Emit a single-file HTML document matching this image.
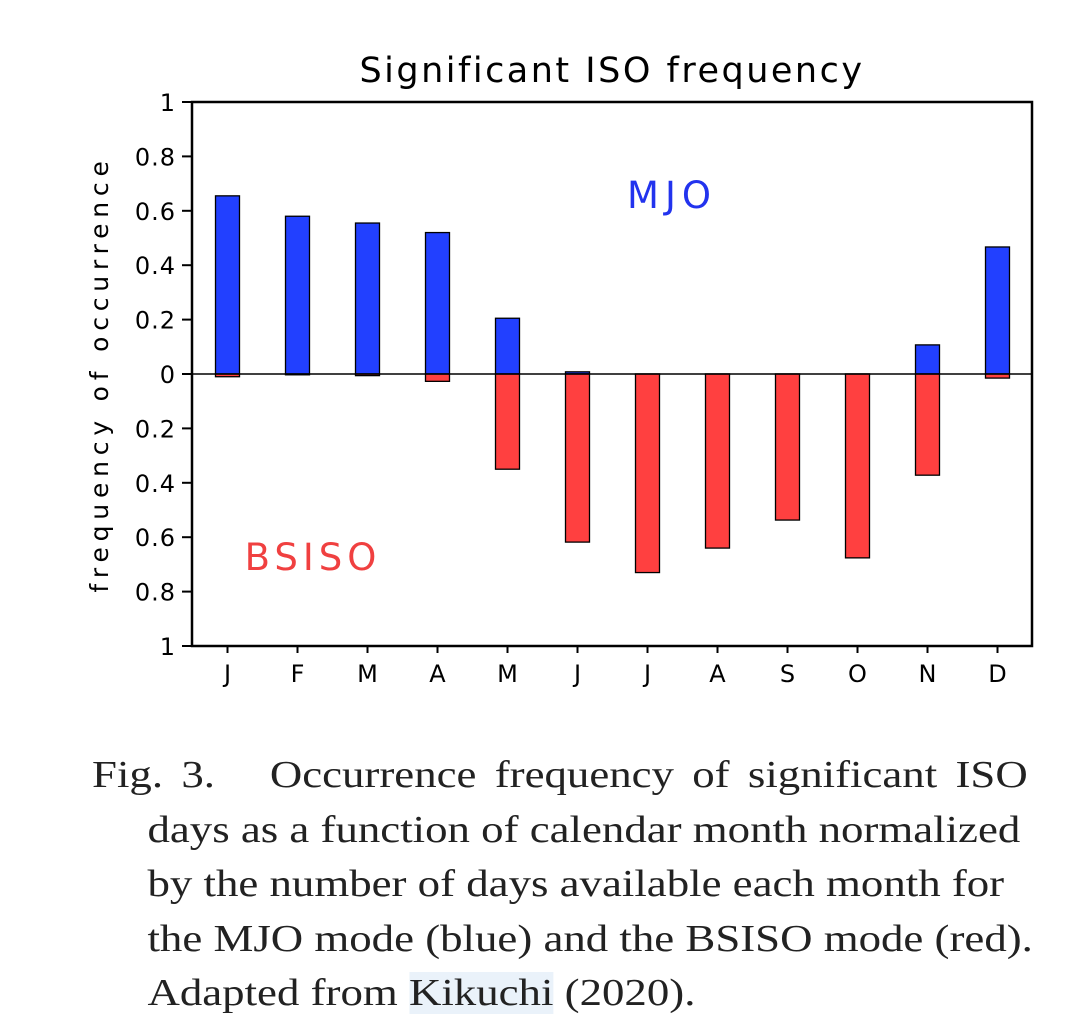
<!DOCTYPE html>
<html><head><meta charset="utf-8"><style>
body{margin:0;background:#fff;width:1080px;height:1036px;overflow:hidden;position:relative}
#cap{position:absolute;left:92px;top:748px;font-family:"Liberation Serif",serif;font-size:38px;line-height:54.5px;color:#222;transform:scaleX(1.18);transform-origin:0 0}
#cap .l{white-space:nowrap}
#cap .j{width:793px;text-align:justify;text-align-last:justify;white-space:normal}
.hl{background:#eaf2fa}
</style></head><body>
<svg id="chart" width="1080" height="720" style="position:absolute;left:0;top:0" font-family="'DejaVu Sans','Liberation Sans',sans-serif">
<text x="612" y="82" font-size="35" text-anchor="middle" letter-spacing="2.5" fill="#000">Significant ISO frequency</text>
<g id="bars"></g>
<g id="axes"></g>
<text transform="translate(108,374) rotate(-90)" font-size="25" text-anchor="middle" letter-spacing="5.8" fill="#000">frequency of occurrence</text>
<text x="672" y="208" font-size="37" text-anchor="middle" fill="#2233ee" letter-spacing="6">MJO</text>
<text x="313" y="570" font-size="37" text-anchor="middle" fill="#f04040" letter-spacing="5">BSISO</text>
</svg>
<div id="cap">
<div class="l j">Fig. 3.&nbsp;&nbsp; Occurrence frequency of significant ISO</div>
<div class="l" style="padding-left:47px">days as a function of calendar month normalized</div>
<div class="l" style="padding-left:47px">by the number of days available each month for</div>
<div class="l" style="padding-left:47px">the MJO mode (blue) and the BSISO mode (red).</div>
<div class="l" style="padding-left:47px">Adapted from <span class="hl">Kikuchi</span> (2020).</div>
</div>
<script>
const months=["J","F","M","A","M","J","J","A","S","O","N","D"];
const mjo=[0.655,0.58,0.555,0.52,0.205,0.008,0,0,0,0,0.107,0.467];
const bsiso=[0.01,0.003,0.006,0.027,0.35,0.618,0.73,0.64,0.537,0.676,0.372,0.015];
const yTicks=[1,0.8,0.6,0.4,0.2,0,0.2,0.4,0.6,0.8,1];
const yTickVals=[1,0.8,0.6,0.4,0.2,0,-0.2,-0.4,-0.6,-0.8,-1];
const NS="http://www.w3.org/2000/svg";
const L=192,R=1032,T=102,B=646;
const y=v=>374-v*272;
const x=i=>227.5+i*70;
const bw=24;
function mk(t,a,p){const e=document.createElementNS(NS,t);for(const k in a)e.setAttribute(k,a[k]);p.appendChild(e);return e;}
const bars=document.getElementById('bars'),axes=document.getElementById('axes');
months.forEach((m,i)=>{
 let r=mk('rect',{x:x(i)-bw/2,y:y(mjo[i]),width:bw,height:Math.max(0.5,y(0)-y(mjo[i])),fill:'#2240ff',stroke:'#000','stroke-width':1.3},bars);
 
 
 let s=mk('rect',{x:x(i)-bw/2,y:y(0),width:bw,height:Math.max(0.5,y(-bsiso[i])-y(0)),fill:'#ff4040',stroke:'#000','stroke-width':1.3},bars);
 
 
 let tk=mk('line',{x1:x(i),x2:x(i),y1:B,y2:B+7,stroke:'#000','stroke-width':2},axes);
 
 
 let tl=mk('text',{x:x(i),y:B+36,'font-size':24,'text-anchor':'middle',fill:'#000'},axes);
 tl.textContent=m;
 
 
});
let fr=mk('rect',{x:L,y:T,width:R-L,height:B-T,fill:'none',stroke:'#000','stroke-width':2.5},axes);


let z=mk('line',{x1:182,x2:R,y1:y(0),y2:y(0),stroke:'#000','stroke-width':1.5},axes);


yTicks.forEach((t,i)=>{
 const yy=y(yTickVals[i]);
 let l=mk('line',{x1:182,x2:L,y1:yy,y2:yy,stroke:'#000','stroke-width':2},axes);
 
 
 let tx=mk('text',{x:176,y:yy+9,'font-size':24,'text-anchor':'end','letter-spacing':1,fill:'#000'},axes);
 tx.textContent=String(t);
 
 
});
</script>
</body></html>
